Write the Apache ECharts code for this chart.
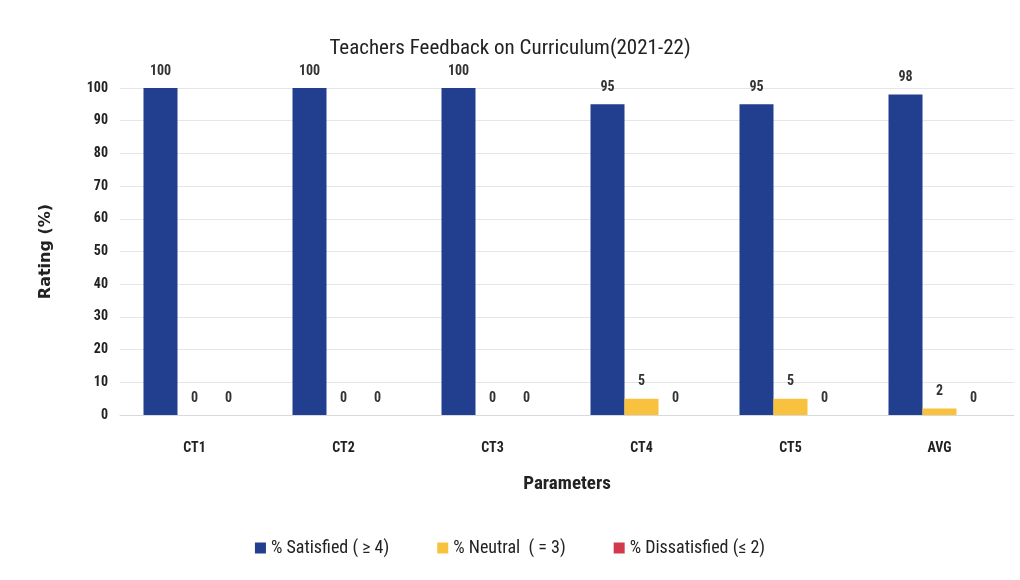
<!DOCTYPE html>
<html><head><meta charset="utf-8">
<script src="https://cdn.jsdelivr.net/npm/echarts@6/dist/echarts.min.js"></script>
<style>html,body{margin:0;padding:0;background:#fff}#c{width:1020px;height:580px}</style>
</head><body><div id="c"></div>
<script>
const categories = ['CT1','CT2','CT3','CT4','CT5','AVG'];
const satisfied = [100,100,100,95,95,98];
const neutral = [0,0,0,5,5,2];
const dissatisfied = [0,0,0,0,0,0];
const seriesNames = ['% Satisfied ( \u2265 4)','% Neutral  ( = 3)','% Dissatisfied (\u2264 2)'];
const yTicks = {min:0,max:100,interval:10};

const FONT = '"Liberation Sans Narrow","Arial Narrow","Roboto Condensed",sans-serif';
const lbl = {show:true,position:'top',distance:10,color:'#333',fontFamily:FONT,fontWeight:'bold',fontSize:14};
const chart = echarts.init(document.getElementById('c'));
chart.setOption({
  animation:false,
  backgroundColor:'#fff',
  title:{text:'Teachers Feedback on Curriculum(2021-22)',left:'center',top:33,
    textStyle:{fontFamily:FONT,fontSize:21,fontWeight:'normal',color:'#222'}},
  legend:{bottom:18,left:'center',itemWidth:11,itemHeight:11,itemGap:48,icon:'rect',
    textStyle:{fontFamily:FONT,fontSize:18,color:'#222'}},
  grid:{left:120,right:6,top:88,bottom:165},
  xAxis:{type:'category',data:categories,
    axisLine:{lineStyle:{color:'#d9d9d9'}},axisTick:{show:false},
    axisLabel:{margin:26,color:'#222',fontFamily:FONT,fontWeight:'bold',fontSize:14},
    name:'Parameters',nameLocation:'middle',nameGap:60,
    nameTextStyle:{fontFamily:FONT,fontWeight:'bold',fontSize:19,color:'#222'}},
  yAxis:{type:'value',min:yTicks.min,max:yTicks.max,interval:yTicks.interval,
    axisLabel:{margin:12,color:'#222',fontFamily:FONT,fontWeight:'bold',fontSize:14},
    splitLine:{lineStyle:{color:'#e6e6e6'}},
    name:'Rating (%)',nameLocation:'middle',nameGap:66,nameRotate:90,
    nameTextStyle:{fontFamily:'"DejaVu Sans",Verdana,sans-serif',fontWeight:'bold',fontSize:16,color:'#222'}},
  series:[
    {name:seriesNames[0],type:'bar',data:satisfied,itemStyle:{color:'#213f8e'},barWidth:34,barGap:'0%',label:lbl},
    {name:seriesNames[1],type:'bar',data:neutral,itemStyle:{color:'#f8c23e'},barWidth:34,barGap:'0%',label:lbl},
    {name:seriesNames[2],type:'bar',data:dissatisfied,itemStyle:{color:'#d23a4c'},barWidth:34,barGap:'0%',label:lbl}
  ]
});
</script></body></html>
